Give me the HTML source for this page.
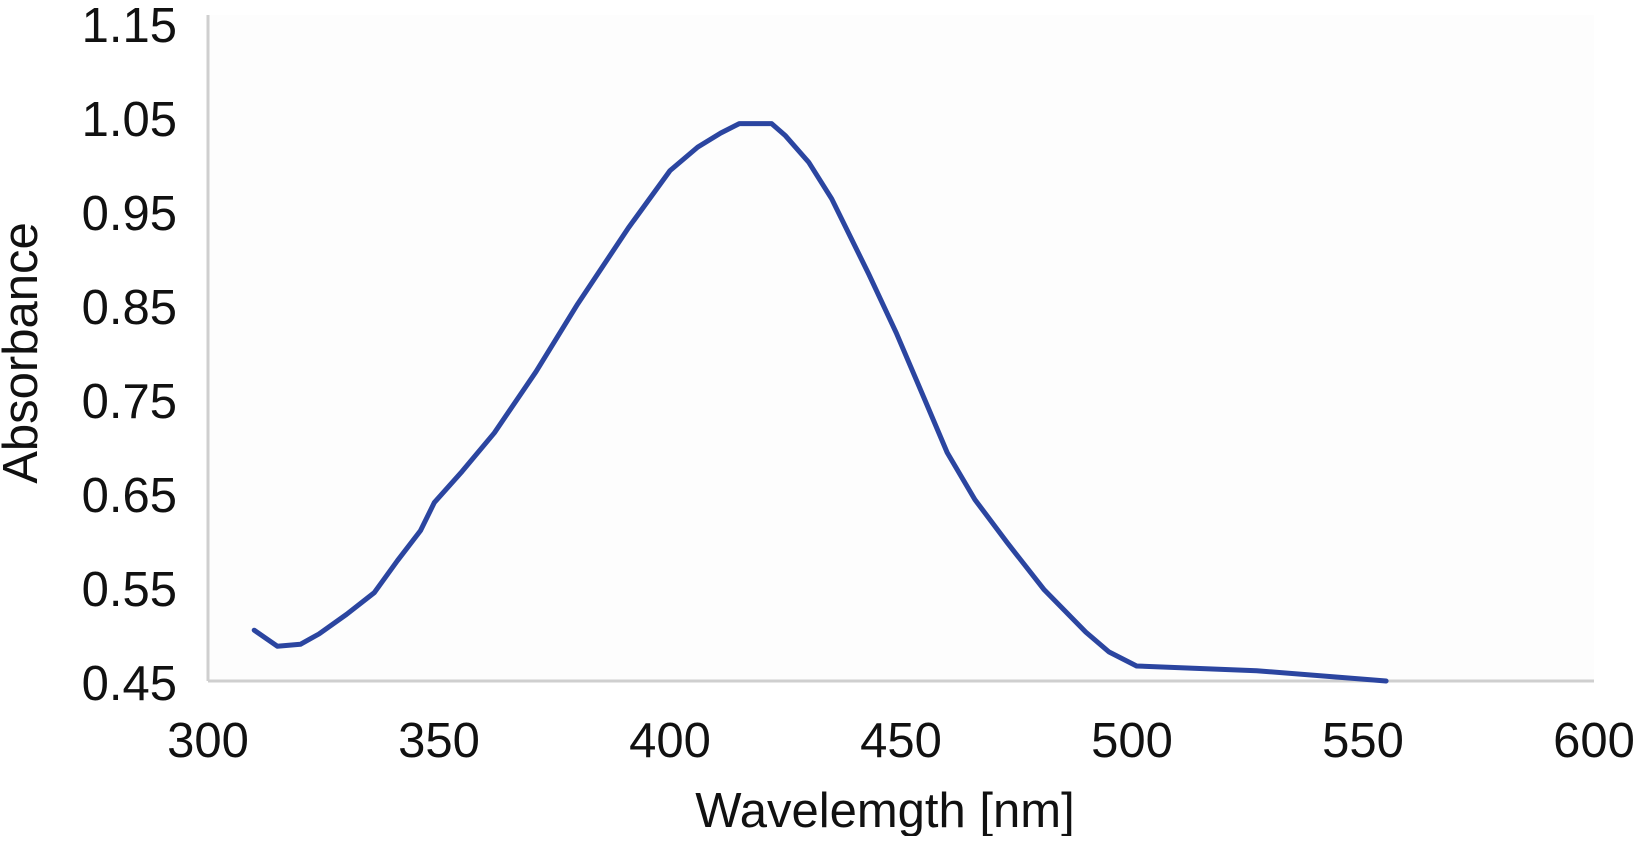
<!DOCTYPE html>
<html><head><meta charset="utf-8"><style>
body{margin:0;background:#fff;}
svg text{font-family:"Liberation Sans",Arial,sans-serif;fill:#111;}
</style></head><body>
<svg width="1641" height="836" viewBox="0 0 1641 836" xmlns="http://www.w3.org/2000/svg">
<rect x="208" y="15" width="1386" height="666" fill="#fdfdfd"/>
<g id="yticks"></g><g id="xticks"></g>
<line x1="208" y1="15" x2="208" y2="681" stroke="#cfcfcf" stroke-width="3"/>
<line x1="208" y1="681" x2="1594" y2="681" stroke="#cfcfcf" stroke-width="3"/>
<path id="series" fill="none" stroke="#2b45a0" stroke-width="5" stroke-linejoin="round" stroke-linecap="round"/>
<text x="885" y="827" font-size="49" text-anchor="middle">Wavelemgth [nm]</text>
<text transform="translate(37,353) rotate(-90)" font-size="49" text-anchor="middle">Absorbance</text>
</svg>
<script>
const wavelengths=[310,315,320,324,330,336,341,346,349,355,362,371,380,391,400,406,411,415,418,422,425,430,435,443,449,455,460,466,473,481,490,495,501,527,555];
const absorbance=[0.504,0.487,0.489,0.500,0.521,0.544,0.578,0.61,0.64,0.673,0.714,0.779,0.851,0.932,0.993,1.018,1.033,1.043,1.043,1.043,1.03,1.002,0.963,0.883,0.82,0.751,0.693,0.643,0.597,0.547,0.502,0.481,0.466,0.461,0.45];
const xTicks=[300,350,400,450,500,550,600];
const yTicks=[0.45,0.55,0.65,0.75,0.85,0.95,1.05,1.15];
const NS="http://www.w3.org/2000/svg";
const xs=v=>208+(v-300)/300*1386;
const ys=v=>681-(v-0.45)/0.7*658;
const yg=document.getElementById('yticks');
yTicks.forEach(t=>{
  const el=document.createElementNS(NS,'text');
  
  
  el.setAttribute('x',177);el.setAttribute('y',ys(t)+19);
  el.setAttribute('font-size','49');el.setAttribute('text-anchor','end');
  el.textContent=t.toFixed(2);yg.appendChild(el);
});
const xg=document.getElementById('xticks');
xTicks.forEach(t=>{
  const el=document.createElementNS(NS,'text');
  
  
  el.setAttribute('x',xs(t));el.setAttribute('y',757);
  el.setAttribute('font-size','49');el.setAttribute('text-anchor','middle');
  el.textContent=t;xg.appendChild(el);
});
document.getElementById('series').setAttribute('d',wavelengths.map((w,i)=>(i?'L':'M')+xs(w).toFixed(1)+' '+ys(absorbance[i]).toFixed(1)).join(' '));
</script>
</body></html>
